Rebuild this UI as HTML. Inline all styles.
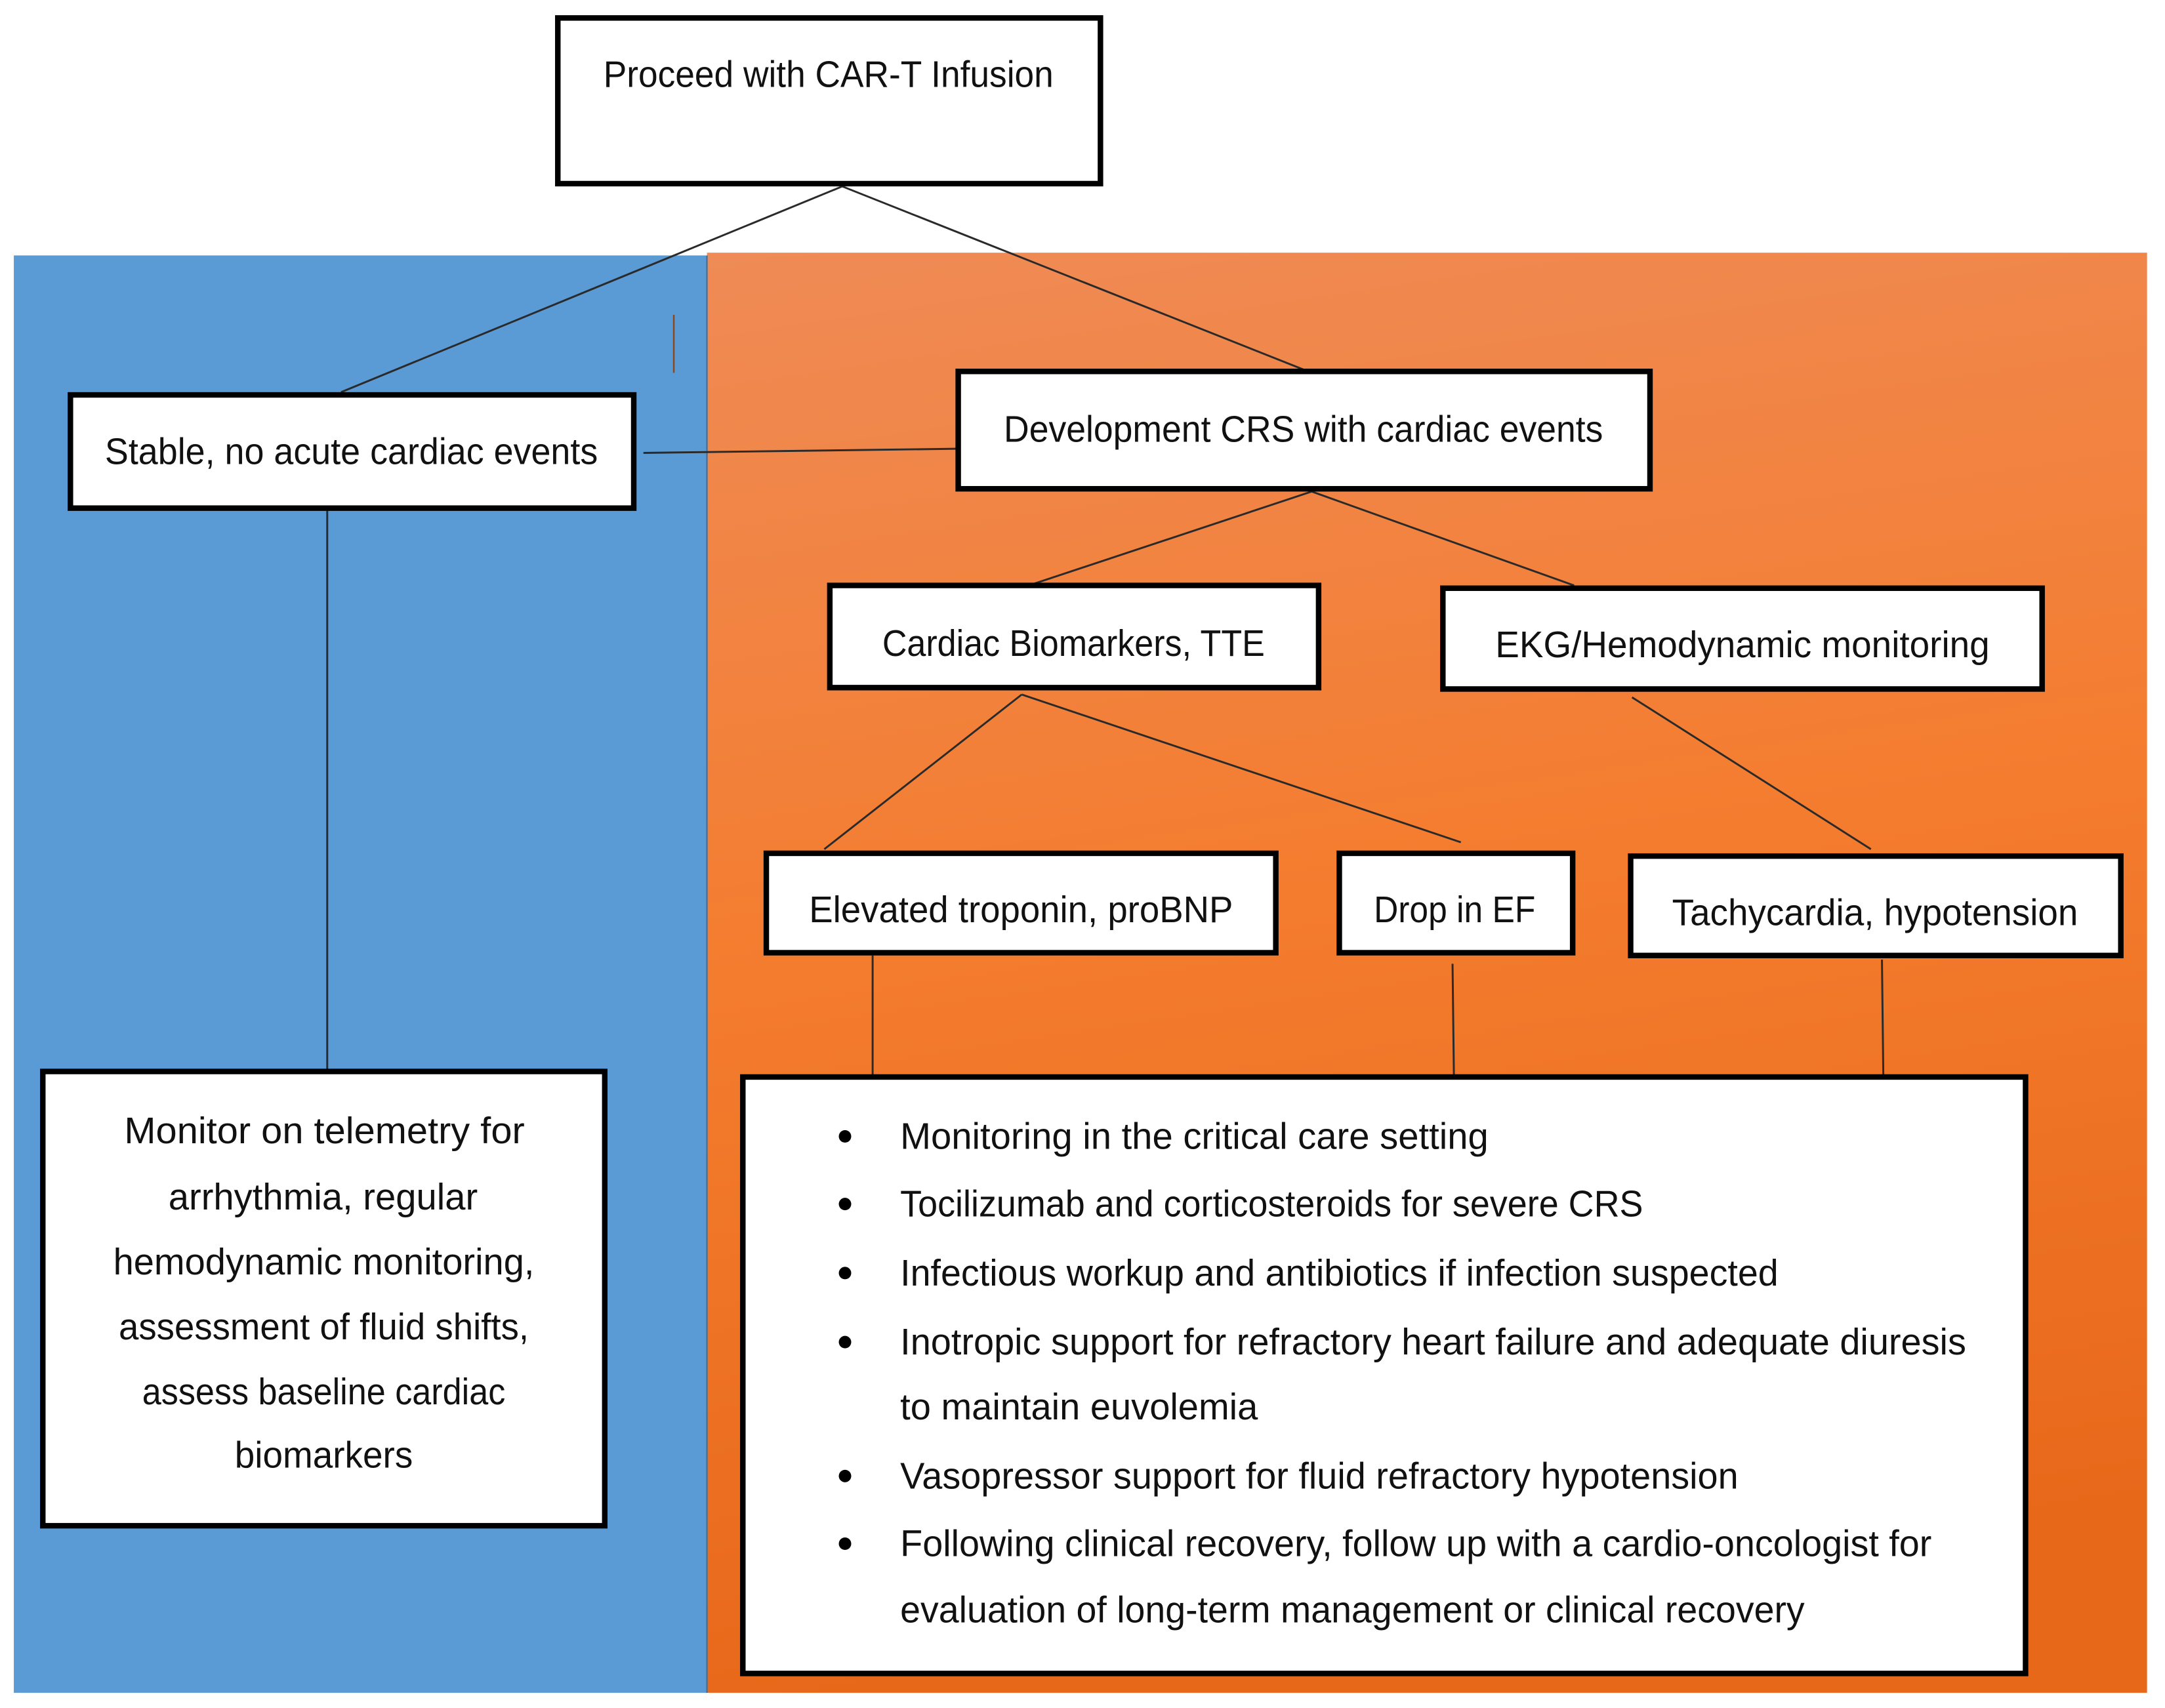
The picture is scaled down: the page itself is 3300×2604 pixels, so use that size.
<!DOCTYPE html>
<html><head><meta charset="utf-8"><style>
html,body{margin:0;padding:0;background:#fff;}
svg{display:block;}
text{font-family:"Liberation Sans",sans-serif;fill:#111;}
</style></head><body>
<svg width="3300" height="2604" viewBox="0 0 1568 1237" preserveAspectRatio="none" xmlns="http://www.w3.org/2000/svg">
<defs>
<linearGradient id="og" x1="0" y1="0" x2="0.15" y2="1">
<stop offset="0" stop-color="#ef8b56"/><stop offset="0.5" stop-color="#f47c2e"/><stop offset="1" stop-color="#e8681a"/>
</linearGradient>
</defs>
<rect x="0" y="0" width="1568" height="1237" fill="#fff"/>
<rect x="512" y="183" width="1043" height="1043" fill="url(#og)"/>
<rect x="10" y="185" width="502" height="1041" fill="#5b9bd5"/>
<line x1="512" y1="185" x2="512" y2="1226" stroke="#3d6f9e" stroke-width="1"/>
<g stroke="#2a2a2a" stroke-width="1.4" fill="none">
<line x1="610" y1="135" x2="247" y2="284"/>
<line x1="610" y1="135" x2="950" y2="270"/>
<line x1="466" y1="328" x2="693" y2="325"/>
<line x1="950" y1="356" x2="727" y2="430"/>
<line x1="950" y1="356" x2="1140" y2="424"/>
<line x1="740" y1="503" x2="597" y2="615"/>
<line x1="740" y1="503" x2="1058" y2="610"/>
<line x1="1182" y1="505" x2="1355" y2="615"/>
<line x1="237" y1="370" x2="237" y2="775"/>
<line x1="632" y1="692" x2="632" y2="780"/>
<line x1="1052" y1="698" x2="1053" y2="780"/>
<line x1="1363" y1="695" x2="1364" y2="780"/>
</g>
<line x1="488" y1="228" x2="488" y2="270" stroke="#8a4a20" stroke-width="1.2"/>
<g fill="#fff" stroke="#000" stroke-width="4">
<rect x="404" y="13" width="393" height="120"/>
<rect x="51" y="286" width="408" height="82"/>
<rect x="694" y="269" width="501" height="85"/>
<rect x="601" y="424" width="354" height="74"/>
<rect x="1045" y="426" width="434" height="73"/>
<rect x="555" y="618" width="369" height="72"/>
<rect x="970" y="618" width="169" height="72"/>
<rect x="1181" y="620" width="355" height="72"/>
<rect x="31" y="776" width="407" height="329"/>
<rect x="538" y="780" width="929" height="432"/>
</g>
<g font-size="27">
<text x="437" y="63" textLength="326" lengthAdjust="spacingAndGlyphs">Proceed with CAR-T Infusion</text>
<text x="76" y="336" textLength="357" lengthAdjust="spacingAndGlyphs">Stable, no acute cardiac events</text>
<text x="727" y="320" textLength="434" lengthAdjust="spacingAndGlyphs">Development CRS with cardiac events</text>
<text x="639" y="475" textLength="277" lengthAdjust="spacingAndGlyphs">Cardiac Biomarkers, TTE</text>
<text x="1083" y="476" textLength="358" lengthAdjust="spacingAndGlyphs">EKG/Hemodynamic monitoring</text>
<text x="586" y="668" textLength="307" lengthAdjust="spacingAndGlyphs">Elevated troponin, proBNP</text>
<text x="995" y="668" textLength="117" lengthAdjust="spacingAndGlyphs">Drop in EF</text>
<text x="1211" y="670" textLength="294" lengthAdjust="spacingAndGlyphs">Tachycardia, hypotension</text>
<text x="90" y="828" textLength="290" lengthAdjust="spacingAndGlyphs">Monitor on telemetry for</text>
<text x="122" y="876" textLength="224" lengthAdjust="spacingAndGlyphs">arrhythmia, regular</text>
<text x="82" y="923" textLength="305" lengthAdjust="spacingAndGlyphs">hemodynamic monitoring,</text>
<text x="86" y="970" textLength="297" lengthAdjust="spacingAndGlyphs">assessment of fluid shifts,</text>
<text x="103" y="1017" textLength="263" lengthAdjust="spacingAndGlyphs">assess baseline cardiac</text>
<text x="170" y="1063" textLength="129" lengthAdjust="spacingAndGlyphs">biomarkers</text>
<text x="652" y="832" textLength="426" lengthAdjust="spacingAndGlyphs">Monitoring in the critical care setting</text>
<text x="652" y="881" textLength="538" lengthAdjust="spacingAndGlyphs">Tocilizumab and corticosteroids for severe CRS</text>
<text x="652" y="931" textLength="636" lengthAdjust="spacingAndGlyphs">Infectious workup and antibiotics if infection suspected</text>
<text x="652" y="981" textLength="772" lengthAdjust="spacingAndGlyphs">Inotropic support for refractory heart failure and adequate diuresis</text>
<text x="652" y="1028" textLength="259" lengthAdjust="spacingAndGlyphs">to maintain euvolemia</text>
<text x="652" y="1078" textLength="607" lengthAdjust="spacingAndGlyphs">Vasopressor support for fluid refractory hypotension</text>
<text x="652" y="1127" textLength="747" lengthAdjust="spacingAndGlyphs">Following clinical recovery, follow up with a cardio-oncologist for</text>
<text x="652" y="1175" textLength="655" lengthAdjust="spacingAndGlyphs">evaluation of long-term management or clinical recovery</text>
</g>
<g fill="#000">
<circle cx="612" cy="823" r="4.5"/>
<circle cx="612" cy="872" r="4.5"/>
<circle cx="612" cy="922" r="4.5"/>
<circle cx="612" cy="972" r="4.5"/>
<circle cx="612" cy="1069" r="4.5"/>
<circle cx="612" cy="1118" r="4.5"/>
</g>
</svg>
</body></html>
